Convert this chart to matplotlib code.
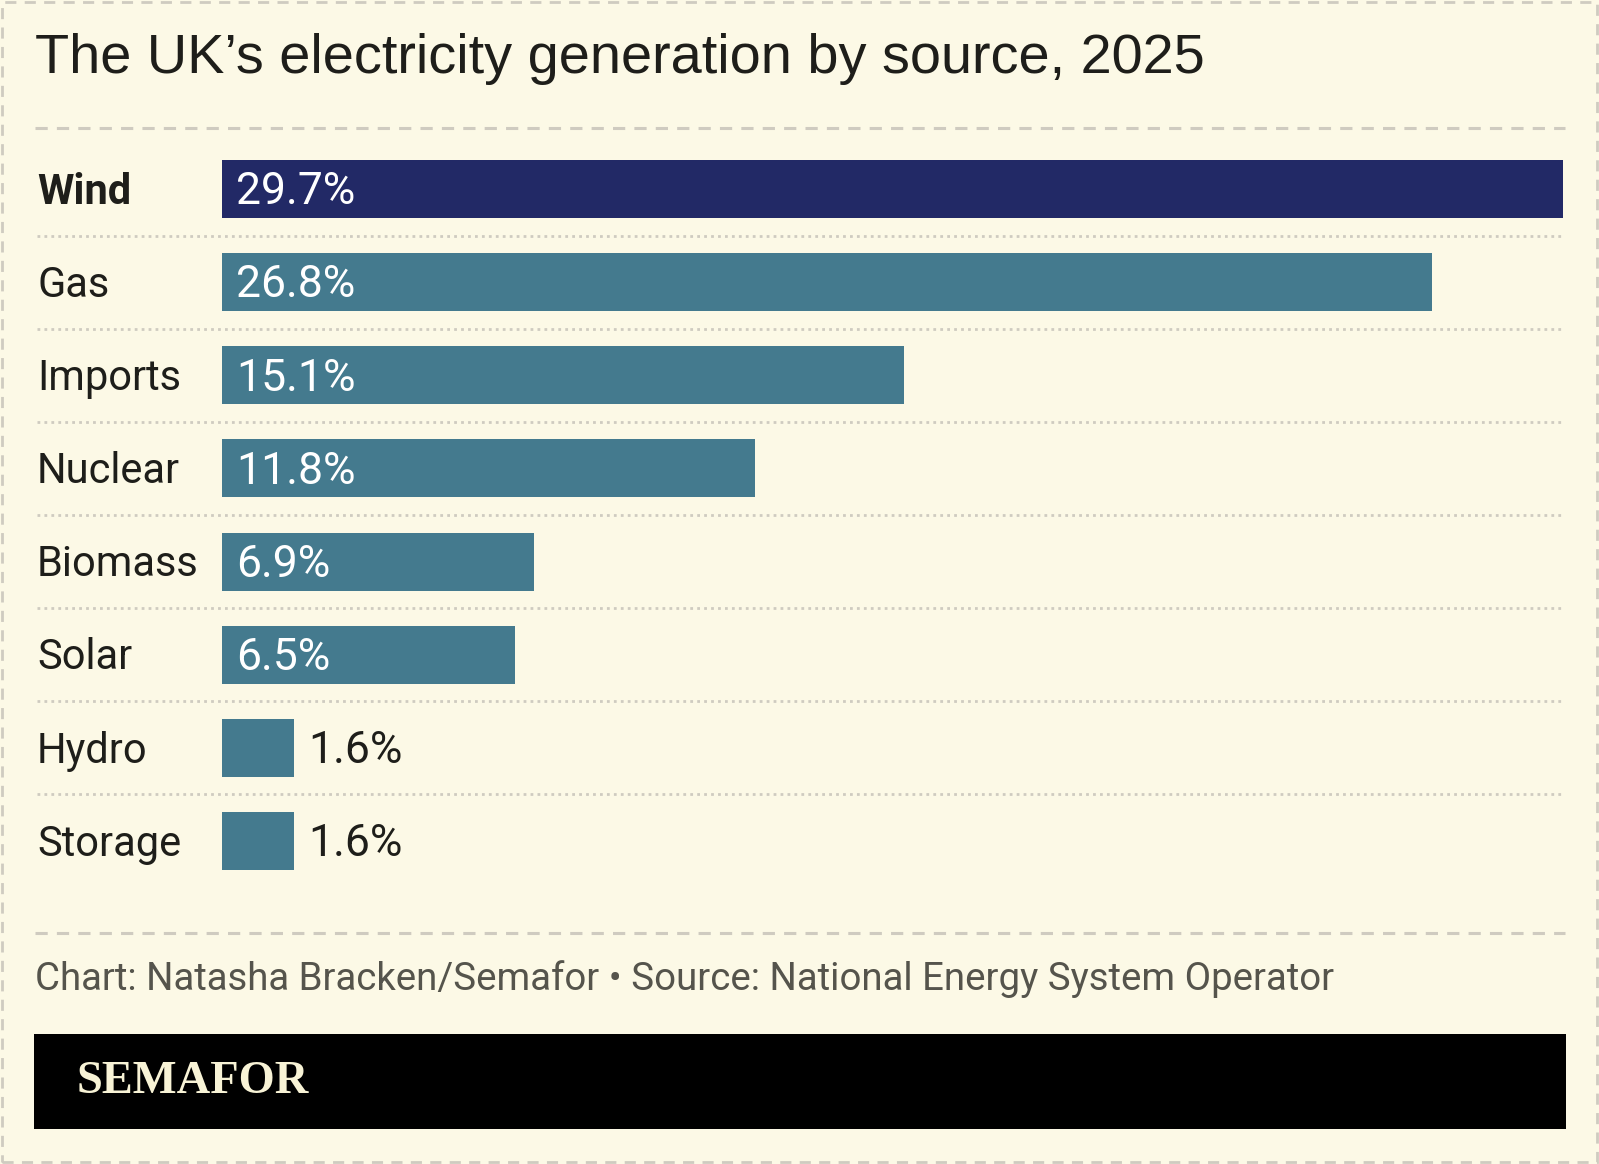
import matplotlib.pyplot as plt
from matplotlib.patches import Rectangle

sources = ["Wind", "Gas", "Imports", "Nuclear", "Biomass", "Solar", "Hydro", "Storage"]
shares = [29.7, 26.8, 15.1, 11.8, 6.9, 6.5, 1.6, 1.6]
value_labels = ["29.7%", "26.8%", "15.1%", "11.8%", "6.9%", "6.5%", "1.6%", "1.6%"]
highlight = "Wind"

BG = "#FCF9E6"
NAVY = "#222966"
TEAL = "#447A8E"
GRID = "#CFCBC0"
TEXT = "#1E1E1A"
MUTED = "#55544C"

W, H = 1599, 1164
fig = plt.figure(figsize=(W / 100, H / 100), dpi=100, facecolor=BG)

# bar area in pixel geometry
left, right = 222, 1563
row_top, row_bot = 142.4, 887.6
ax = fig.add_axes([left / W, 1 - row_bot / H, (right - left) / W, (row_bot - row_top) / H])
ax.set_facecolor("none")
ax.set_xlim(0, max(shares))
ax.set_ylim(len(sources) - 0.5, -0.5)
ax.axis("off")

ypos = list(range(len(sources)))
colors = [NAVY if s == highlight else TEAL for s in sources]
ax.barh(ypos, shares, height=0.623, color=colors, linewidth=0)

label_x = (37 - left) / (right - left)
ytrans = ax.get_yaxis_transform()
dy = 0.035  # nudge text down a little
for i, (s, v, lab) in enumerate(zip(sources, shares, value_labels)):
    ax.text(label_x, i + dy, s, transform=ytrans, ha="left", va="center",
            fontsize=30, family="Roboto", color=TEXT,
            fontweight="bold" if s == highlight else "normal")
    if v > 5:
        ax.text(0.32, i + dy, lab, ha="left", va="center", fontsize=32,
                family="Roboto", color="white")
    else:
        ax.text(v + 0.3, i + dy, lab, ha="left", va="center", fontsize=32,
                family="Roboto", color=TEXT)
    if i > 0:
        ax.axhline(i - 0.5, xmin=label_x, xmax=1, color=GRID, lw=2,
                   ls=(0, (1, 1.5)), clip_on=False)

# title
fig.text(35 / W, 1 - 59 / H, "The UK\u2019s electricity generation by source, 2025",
         ha="left", va="center", fontsize=40.2, family="Liberation Sans", color=TEXT)

# dashed separators
for y in (128, 933):
    fig.add_artist(plt.Line2D([35 / W, 1565 / W], [1 - y / H, 1 - y / H],
                              color=GRID, lw=2.2, ls=(0, (4, 3))))

# footer
fig.text(35 / W, 1 - 979 / H,
         "Chart: Natasha Bracken/Semafor \u2022 Source: National Energy System Operator",
         ha="left", va="center", fontsize=27.6, family="Roboto", color=MUTED)

fig.add_artist(Rectangle((34 / W, 1 - 1129 / H), (1566 - 34) / W, (1129 - 1034) / H,
                         transform=fig.transFigure, facecolor="black", edgecolor="none"))
fig.text(77 / W, 1 - 1082 / H, "SEMAFOR", ha="left", va="center", fontsize=33.5,
         family="Liberation Serif", fontweight="bold", color="#F8F3D6")

# outer dashed border
fig.add_artist(Rectangle((2 / W, 2 / H), (W - 4) / W, (H - 4) / H, transform=fig.transFigure,
                         facecolor="none", edgecolor=GRID, lw=2, ls=(0, (4, 3))))

fig.savefig("out.png", dpi=100, facecolor=BG)
plt.close(fig)
